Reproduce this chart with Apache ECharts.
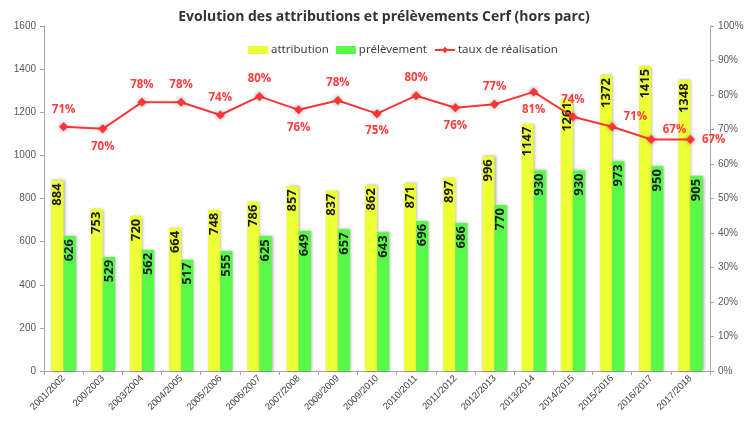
<!DOCTYPE html>
<html>
<head>
<meta charset="utf-8">
<script src="https://cdn.jsdelivr.net/npm/echarts@6/dist/echarts.min.js"></script>
<style>
    html, body { margin: 0; padding: 0; background: #fff; }
    #main { width: 750px; height: 425px; }
</style>
</head>
<body>
<div id="main"></div>
<script>
    // saisons
    var saisons = ['2001/2002', '200/2003', '2003/2004', '2004/2005', '2005/2006', '2006/2007',
        '2007/2008', '2008/2009', '2009/2010', '2010/2011', '2011/2012', '2012/2013',
        '2013/2014', '2014/2015', '2015/2016', '2016/2017', '2017/2018'];

    var attribution = [884, 753, 720, 664, 748, 786, 857, 837, 862, 871, 897, 996, 1147, 1261, 1372, 1415, 1348];
    var prelevement = [626, 529, 562, 517, 555, 625, 649, 657, 643, 696, 686, 770, 930, 930, 973, 950, 905];
    // taux de réalisation (%)
    var taux = [70.8, 70.2, 77.9, 77.9, 74.2, 79.6, 75.7, 78.4, 74.6, 79.8, 76.3, 77.3, 80.9, 73.7, 70.8, 67.1, 67.1];

    // position des étiquettes du taux
    var posTaux = ['top', 'bottom', 'top', 'top', 'top', 'top', 'bottom', 'top', 'bottom',
        'top', 'bottom', 'top', 'bottom', 'top', 'tr', 'tr', 'right'];

    var chart = echarts.init(document.getElementById('main'));

    var dataTaux = taux.map(function (v, i) {
        var p = posTaux[i];
        var lab = {};
        if (p === 'tr') {
            lab = { position: 'right', offset: [0, -10] };
        } else {
            lab = { position: p };
        }
        return { value: v, label: lab };
    });

    var ombre = {
        shadowBlur: 3,
        shadowColor: 'rgba(0,0,0,0.35)',
        shadowOffsetX: 1,
        shadowOffsetY: 0
    };

    var option = {
        animation: false,
        title: {
            text: 'Evolution des attributions et prélèvements Cerf (hors parc)',
            left: 379,
            textAlign: 'center',
            top: 5,
            textStyle: { fontSize: 14, fontWeight: 'bold', color: '#333', fontFamily: 'Open Sans' }
        },
        legend: {
            top: 39,
            left: 243,
            itemGap: 7,
            itemWidth: 20,
            itemHeight: 8,
            textStyle: { fontSize: 11.5, color: '#404040', fontFamily: 'Noto Sans', padding: [0, 0, 0, -2] },
            data: [
                { name: 'attribution', icon: 'rect' },
                { name: 'prélèvement', icon: 'rect' },
                { name: 'taux de réalisation' }
            ]
        },
        grid: { left: 44, right: 40, top: 26, bottom: 54 },
        xAxis: {
            type: 'category',
            data: saisons,
            axisLine: { lineStyle: { color: '#a6a6a6' } },
            axisTick: { show: true, length: 4, lineStyle: { color: '#a6a6a6' } },
            axisLabel: { rotate: 45, fontSize: 9.5, color: '#404040', margin: 6, interval: 0 }
        },
        yAxis: [{
            type: 'value',
            min: 0, max: 1600, interval: 200,
            axisLine: { show: true, lineStyle: { color: '#a6a6a6' } },
            axisTick: { show: true, length: 4, lineStyle: { color: '#a6a6a6' } },
            splitLine: { show: false },
            axisLabel: { fontSize: 10, color: '#595959', margin: 8, formatter: function (v) { return String(v); } }
        }, {
            type: 'value',
            min: 0, max: 100, interval: 10,
            axisLine: { show: true, lineStyle: { color: '#a6a6a6' } },
            axisTick: { show: true, length: 4, lineStyle: { color: '#a6a6a6' } },
            splitLine: { show: false },
            axisLabel: { fontSize: 10, color: '#595959', margin: 8, formatter: '{value}%' }
        }],
        series: [{
            name: 'attribution',
            type: 'bar',
            data: attribution,
            barGap: '0%',
            barCategoryGap: '38%',
            itemStyle: Object.assign({ color: '#edff35' }, ombre),
            label: {
                show: true, position: 'insideTop', rotate: 90, align: 'right', verticalAlign: 'middle',
                distance: 3, fontSize: 13, fontWeight: 'bold', color: '#1a1a1a', fontFamily: 'Open Sans'
            }
        }, {
            name: 'prélèvement',
            type: 'bar',
            data: prelevement,
            itemStyle: Object.assign({ color: '#57fa46' }, ombre),
            label: {
                show: true, position: 'insideTop', rotate: 90, align: 'right', verticalAlign: 'middle',
                distance: 3, fontSize: 13, fontWeight: 'bold', color: '#1a1a1a', fontFamily: 'Open Sans'
            }
        }, {
            name: 'taux de réalisation',
            type: 'line',
            yAxisIndex: 1,
            data: dataTaux,
            symbol: 'diamond',
            symbolSize: 9,
            lineStyle: { color: '#ff3535', width: 2 },
            itemStyle: { color: '#ff3535', shadowBlur: 4, shadowColor: 'rgba(0,0,0,0.45)' },
            label: {
                show: true, distance: 7, fontSize: 11.5, fontWeight: 'bold', color: '#ff3b3b',
                fontFamily: 'Open Sans',
                formatter: function (p) { return Math.round(p.value) + '%'; }
            },
            z: 5
        }]
    };
    chart.setOption(option);
</script>
</body>
</html>
